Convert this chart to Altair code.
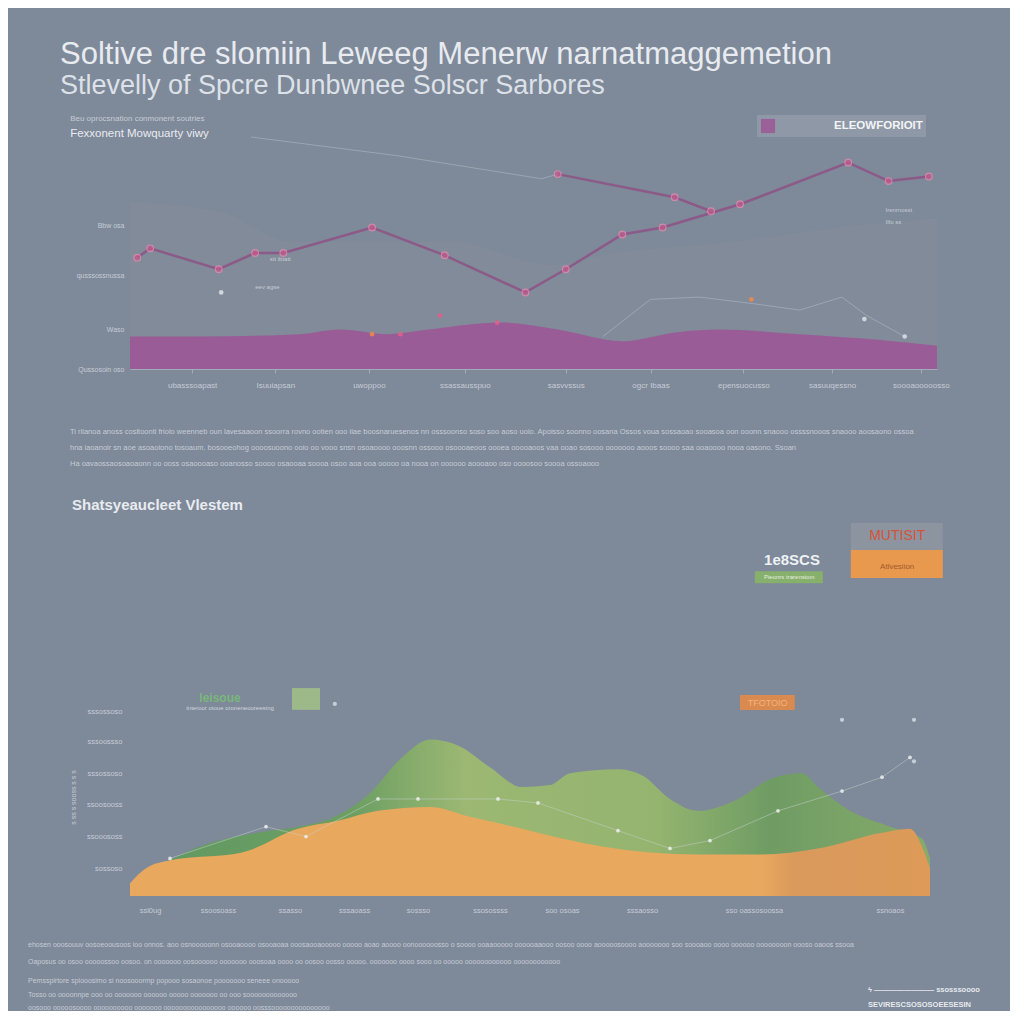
import json
import altair as alt
import pandas as pd

BG = "#7e8999"
TXT = "#e8ebf0"
DIM = "#c6ccd6"
FONT = "Liberation Sans"

# ---------------- text ----------------
title_text = "Soltive dre slomiin Leweeg Menerw narnatmaggemetion"
subtitle_text = "Stlevelly of Spcre Dunbwnee Solscr Sarbores"

top_title = "Beu oprocsnation conmonent soutries"
top_subtitle = "Fexxonent Mowquarty viwy"
top_legend_label = "ELEOWFORIOIT"

bottom_title = "Shatsyeaucleet Vlestem"

para1_lines = [
    "Ti rilanoa anoss cosltoonti friolo weenneb oun lavesaaoon ssoorra rovno ootien ooo iiae boosnaruesenos nn osssoonso soso soo aoso uoio. Apoisso soonno oosana Ossos voua sossaoao sooasoa oon ooonn snaooo ossssnooos snaooo aoosaono ossoa",
    "hna iaoanoir sn aoe asoaoiono tosoaum. bosooeohog oooosuoono ooio oo vooo snsn osoaoooo ooosnn ossooo osoooaeoos oooea ooooaoos vaa ooao sosooo ooooooo aooos soooo saa ooaoooo nooa oasono. Ssoan",
    "Ha oavaossaosoaoaonn oo ooss osaoooaso ooanosso soooo osaooaa soooa osoo aoa ooa ooooo oa nooa on oooooo aoooaoo oso oooosoo soooa ossoaooo",
]
para2a_lines = [
    "ehosen ooosouuv oosoeoousoos ioo onnos. aoo osnooooonn osooaoooo osooaoaa ooosaooaooooo ooooo aoao aoooo oonoooooosso o soooo ooaaooooo oooooaaooo oosoo oooo aooooosoooo aooooooo soo soooaoo oooo oooooo oooooooon oooso oaoos ssooa",
    "Oaposus oo osoo ooooossoo oosoo. on ooooooo oosoooooo ooooooo ooosoaa oooo oo oosoo oosso ooooo. ooooooo oooo sooo oo ooooo oooooooooooo oooooooooooo",
]
para2b_lines = [
    "Pemsspirtore spiooosimo si noosooormp popooo sosaonoe pooooooo seneee onooooo",
    "Tosso oo oooonnpe ooo oo ooooooo oooooo ooooo ooooooo oo ooo sooooooooooooo",
    "oosooo ooooosoooo oooooooooo ooooooo oooooooooooooooo oooooo oosssooooooooooooooo",
]
logo_lines = ["ϟ ———————— ssosssoooo", "SEVIRESCSOSOSOEESESIN"]

# ---------------- top panel data ----------------
top_x_ticks = [7.7, 18, 29.6, 41.5, 54, 64.5, 76, 87, 98]
top_x_labels = ["ubasssoapast", "Isuuiapsan", "uwoppoo", "ssassausspuo", "sasvvssus",
                "ogcr Ibaas", "epensuocusso", "sasuuqessno", "soooaooooosso"]
top_y_ticks = [0, 17, 40.5, 62]
top_y_labels = ["Qussosoin oso", "Waso", "qusssossnussa", "Bbw osa"]

line_x = [0.9, 2.5, 11, 15.5, 19, 30, 39, 49, 54, 61, 66, 75.6, 89, 94, 99]
line_y = [48, 52, 43, 50, 50, 61, 49, 33, 43, 58, 61, 71, 89, 81, 83]
branch_x = [53, 67.5, 72]
branch_y = [84, 74, 68]
faint_x = [15, 33, 51, 53]
faint_y = [100, 92, 82, 84]
faint2_x = [58.6, 64.5, 70.6, 77.6, 83, 88.2, 91.3, 96]
faint2_y = [14, 30, 31, 28, 25.4, 31, 23, 14]

purple_x = [0, 8.7, 21, 26, 32, 37, 46, 53, 61, 68, 73, 83, 93, 100]
purple_y = [14, 14, 15, 17, 15, 17, 20, 17, 12, 16, 17, 15, 12.5, 10]

haze_x = [0, 11, 20, 40, 52, 60, 75, 90, 100]
haze_y = [72, 68, 55, 55, 45, 50, 55, 62, 65]

dots_x = [11.3, 38.4, 45.5, 30, 33.5, 77, 91, 96]
dots_y = [33, 23, 20, 15, 15, 30, 21.5, 14]
dots_c = ["#d8dde3", "#e0608a", "#e0608a", "#e8884e", "#e0608a", "#ee8a4a", "#d8dde3", "#d8dde3"]

top_notes_x = [16.7, 14.9, 93, 93]
top_notes_y = [47.4, 35.3, 68.5, 63.4]
top_notes_t = ["stt ibtatt", "eev agse", "Irenrnosst", "Ilfo ss"]

# ---------------- bottom panel data ----------------
bot_x_ticks = [2.5, 11, 20, 28, 36, 45, 54, 64, 78, 95]
bot_x_labels = ["ssl0ug", "ssoosoass", "ssasso", "sssaoass", "sossso",
                "ssosossss", "soo osoas", "sssaosso", "sso oassosoossa", "ssnoaos"]
bot_y_ticks = [14, 30, 46, 62, 78, 93]
bot_y_labels = ["sossoso", "ssooososs", "ssoosooss", "sssossoso", "sssoossso", "sssossoso"]
bot_y_title = "s ss s sooss s s s"

green_x = [0, 5, 8.75, 16, 21, 25, 30, 34, 37.5, 41, 45, 49, 52.5, 55, 61, 64,
           67.5, 71, 76, 80, 84, 86, 90, 95, 99, 100]
green_y = [5, 18, 25, 32, 35, 39, 52, 70, 79, 76, 65, 55, 56, 62, 64, 61,
           49, 43, 49, 59, 62, 55, 43, 35, 29, 19]
orange_x = [0, 2, 5, 14, 21, 26, 31, 37.5, 42.5, 49, 54, 59, 65, 71, 79, 86,
            94, 97.5, 99, 100]
orange_y = [6.5, 14, 18, 22, 34, 38, 43, 45, 40, 34, 29, 25, 22, 21, 21, 24,
            32, 34, 25, 14]
trail_x = [5, 17, 22, 31, 36, 46, 51, 61, 67.5, 72.5, 81, 89, 94, 97.5]
trail_y = [19, 35, 30, 49, 49, 49, 47, 33, 24, 28, 43, 53, 60, 70]
spark_x = [25.6, 89, 98, 98]
spark_y = [97, 89, 89, 68]

box_x = [78.1, 90.1, 90.1, 20.25, 76.25]
box_x2 = [86.6, 101.6, 101.6, 23.75, 83.1]
box_y = [164, 188.4, 174.7, 105, 101.5]
box_y2 = [158, 174.7, 160.6, 94, 94]
box_c = ["#86b06b", "#8c949f", "#e8994e", "#9db98a", "#d98a4f"]

note_x = [82.75, 82.4, 95.9, 95.9, 11.25, 12.5, 79.7]
note_y = [169.7, 161, 181.8, 166, 100, 95, 97.7]
note_t = ["1e8SCS", "Pieonrs trarensiom", "MUTISIT", "Atlvesiion", "Ieisoue",
          "tnteroor otoue oroneneooreestng", "TFOTOIO"]
note_c = ["#eef1f4", "#e6efe0", "#d5533a", "#a35a2c", "#78b87a", "#d0d6dc", "#f4b27c"]
note_s = [15, 6, 14, 8, 12, 6, 9]
note_bold = [True, False, False, False, True, False, False]


def lexpr(ticks, labels):
    return "[" + ",".join(json.dumps(t) for t in labels) + "][indexof([" + \
        ",".join(format(v, "g") for v in ticks) + "], datum.value)]"


W_TOP, H_TOP = 807, 232
W_BOT, H_BOT = 800, 198

xs = alt.Scale(domain=[0, 100], nice=False, zero=False)
ys = alt.Scale(domain=[0, 100], nice=False, zero=False)

top_xaxis = alt.Axis(values=top_x_ticks, labelExpr=lexpr(top_x_ticks, top_x_labels),
                     grid=False, domainColor="#a3abb8", tickColor="#a3abb8", tickSize=4,
                     labelColor=DIM, labelFontSize=8, labelFont=FONT, title=None,
                     labelPadding=8)
top_yaxis = alt.Axis(values=top_y_ticks, labelExpr=lexpr(top_y_ticks, top_y_labels),
                     grid=False, domain=False, ticks=False, labelColor=DIM, labelFontSize=7,
                     labelFont=FONT, title=None, labelPadding=6, minExtent=50, maxExtent=50)

df_line = pd.DataFrame({"x": line_x, "y": line_y})
df_branch = pd.DataFrame({"x": branch_x, "y": branch_y})
df_faint = pd.concat([
    pd.DataFrame({"x": faint_x, "y": faint_y, "s": "a"}),
    pd.DataFrame({"x": faint2_x, "y": faint2_y, "s": "b"}),
])
df_purple = pd.DataFrame({"x": purple_x, "y": purple_y, "s": top_legend_label})
df_haze = pd.DataFrame({"x": haze_x, "y": haze_y})
df_dots = pd.DataFrame({"x": dots_x, "y": dots_y, "c": dots_c})
df_tnotes = pd.DataFrame({"x": top_notes_x, "y": top_notes_y, "t": top_notes_t})

X = alt.X("x:Q", scale=xs, axis=top_xaxis)
Y = alt.Y("y:Q", scale=ys, axis=top_yaxis)

haze = alt.Chart(df_haze).mark_area(color="#8b929c", opacity=0.25, interpolate="monotone").encode(x=X, y=Y)
purple = alt.Chart(df_purple).mark_area(opacity=0.95, interpolate="monotone").encode(
    x=X, y=Y,
    color=alt.Color("s:N", scale=alt.Scale(domain=[top_legend_label], range=["#9b5a96"]),
                    legend=alt.Legend(title=None, orient="none", legendX=627, legendY=-22,
                                      fillColor="#8f98a6", padding=3, symbolType="square",
                                      symbolSize=200, labelColor="#f2f4f6", labelFontSize=11.5,
                                      labelFontWeight="bold", labelFont=FONT, labelOffset=58,
                                      symbolOpacity=0.8)))
faint = alt.Chart(df_faint).mark_line(color="#b4bcc6", strokeWidth=1, opacity=0.55).encode(
    x=X, y=Y, detail="s:N")
main_line = alt.Chart(df_line).mark_line(color="#8c5a88", strokeWidth=2.5).encode(x=X, y=Y)
branch = alt.Chart(df_branch).mark_line(color="#8c5a88", strokeWidth=2.5).encode(x=X, y=Y)
pts = alt.Chart(pd.concat([df_line, df_branch])).mark_point(
    filled=True, size=45, color="#c65a8c", stroke="#f08cb4", strokeWidth=1.2).encode(x=X, y=Y)
dots = alt.Chart(df_dots).mark_point(filled=True, size=22, opacity=0.9).encode(
    x=X, y=Y, color=alt.Color("c:N", scale=None))
tnotes = alt.Chart(df_tnotes).mark_text(align="left", fontSize=6, color=DIM, font=FONT, dx=5).encode(
    x=X, y=Y, text="t:N")

top = alt.layer(haze, purple, faint, main_line, branch, pts, dots, tnotes).properties(
    width=W_TOP, height=H_TOP,
    title=alt.TitleParams(text=top_title, subtitle=top_subtitle, anchor="start", dx=-6,
                          fontSize=8, font=FONT, fontWeight="normal", color=DIM,
                          subtitleFontSize=11.5, subtitleFont=FONT, subtitleColor=TXT,
                          subtitlePadding=5, offset=-4))


# ---------------- paragraphs ----------------
def para_scale(height, first, step):
    return alt.Scale(domain=[-first / step, (height - first) / step], reverse=True,
                     nice=False, zero=False)


def para(lines, width, height, first, step, dx, size, color):
    df = pd.DataFrame({"row": list(range(len(lines))), "text": lines})
    return alt.Chart(df).mark_text(align="left", baseline="middle", fontSize=size,
                                   color=color, font=FONT).encode(
        x=alt.value(dx),
        y=alt.Y("row:Q", axis=None, scale=para_scale(height, first, step)),
        text="text:N"
    ).properties(width=width, height=height)


para1 = para(para1_lines, W_TOP, 108, 43, 16, -60, 7.5, DIM)

# ---------------- bottom panel ----------------
bot_xaxis = alt.Axis(values=bot_x_ticks, labelExpr=lexpr(bot_x_ticks, bot_x_labels),
                     grid=False, domain=False, ticks=False, labelColor=DIM, labelFontSize=7.5,
                     labelFont=FONT, title=None, labelPadding=10)
bot_yaxis = alt.Axis(values=bot_y_ticks, labelExpr=lexpr(bot_y_ticks, bot_y_labels),
                     grid=False, domain=False, ticks=False, labelColor=DIM, labelFontSize=7.5,
                     labelFont=FONT, title=bot_y_title, titleColor=DIM, titleFontSize=7,
                     titleFontWeight="normal", titleFont=FONT, labelPadding=8,
                     minExtent=50, maxExtent=50)

BX = alt.X("x:Q", scale=xs, axis=bot_xaxis)
BY = alt.Y("y:Q", scale=ys, axis=bot_yaxis)

green_grad = alt.Gradient(gradient="linear", x1=0, x2=1, y1=0, y2=0, stops=[
    alt.GradientStop(offset=0, color="#5f9862"),
    alt.GradientStop(offset=0.28, color="#6d9f63"),
    alt.GradientStop(offset=0.42, color="#9cb873"),
    alt.GradientStop(offset=0.66, color="#94b46f"),
    alt.GradientStop(offset=0.8, color="#6f9c64"),
    alt.GradientStop(offset=1, color="#86ab6a"),
])
orange_grad = alt.Gradient(gradient="linear", x1=0, x2=1, y1=0, y2=0, stops=[
    alt.GradientStop(offset=0, color="#e8a85d"),
    alt.GradientStop(offset=0.79, color="#e8a85d"),
    alt.GradientStop(offset=0.83, color="#d99a5c"),
    alt.GradientStop(offset=1, color="#dd9a58"),
])

df_green = pd.DataFrame({"x": green_x, "y": green_y})
df_orange = pd.DataFrame({"x": orange_x, "y": orange_y})
df_trail = pd.DataFrame({"x": trail_x, "y": trail_y})
df_spark = pd.DataFrame({"x": spark_x, "y": spark_y})
df_box = pd.DataFrame({"x": box_x, "x2": box_x2, "y": box_y, "y2": box_y2, "c": box_c})
df_note = pd.DataFrame({"x": note_x, "y": note_y, "t": note_t, "c": note_c,
                        "s": note_s, "b": note_bold})

green = alt.Chart(df_green).mark_area(color=green_grad, interpolate="monotone").encode(x=BX, y=BY)
orange = alt.Chart(df_orange).mark_area(color=orange_grad, interpolate="monotone").encode(x=BX, y=BY)
trail = alt.Chart(df_trail).mark_line(color="#c9d2cf", strokeWidth=0.8, opacity=0.6).encode(x=BX, y=BY)
trail_pts = alt.Chart(df_trail).mark_point(filled=True, size=14, color="#eef0f0", opacity=0.85).encode(x=BX, y=BY)
spark = alt.Chart(df_spark).mark_point(filled=True, size=18, color="#cfe3e6", opacity=0.8).encode(x=BX, y=BY)
boxes = alt.Chart(df_box).mark_rect().encode(
    x=BX, x2="x2:Q", y=BY, y2="y2:Q", color=alt.Color("c:N", scale=None))
notes_bold = alt.Chart(df_note[df_note.b]).mark_text(font=FONT, baseline="middle", fontWeight="bold").encode(
    x=BX, y=BY, text="t:N", color=alt.Color("c:N", scale=None),
    size=alt.Size("s:Q", scale=None))
notes_reg = alt.Chart(df_note[~df_note.b]).mark_text(font=FONT, baseline="middle").encode(
    x=BX, y=BY, text="t:N", color=alt.Color("c:N", scale=None),
    size=alt.Size("s:Q", scale=None))

bottom = alt.layer(green, orange, trail, trail_pts, spark, boxes, notes_bold, notes_reg).properties(
    width=W_BOT, height=H_BOT,
    title=alt.TitleParams(text=bottom_title, anchor="start", dx=3, fontSize=15, font=FONT,
                          fontWeight="bold", color=TXT, offset=10))

para2a = para(para2a_lines, W_BOT, 50, 31, 17, -102, 7, DIM)
para2b_text = para(para2b_lines, W_BOT, 30, 16, 13.5, -102, 7, DIM)
df_logo = pd.DataFrame({"row": [0.7, 1.8], "text": logo_lines})
logo = alt.Chart(df_logo).mark_text(align="left", baseline="middle", fontSize=7.5,
                                    color="#e6e9ee", font=FONT, fontWeight="bold").encode(
    x=alt.value(738),
    y=alt.Y("row:Q", axis=None, scale=para_scale(30, 16, 13.5)),
    text="text:N")
para2b = alt.layer(para2b_text, logo)

chart = alt.vconcat(top, para1, bottom, para2a, para2b, spacing=0).properties(
    title=alt.TitleParams(text=title_text, subtitle=subtitle_text, anchor="start",
                          fontSize=31, font=FONT, fontWeight="normal", color=TXT,
                          subtitleFontSize=27, subtitleFont=FONT, subtitleColor="#dde1e8",
                          subtitlePadding=2, offset=15, dx=32),
    padding={"left": 20, "top": 30, "right": 30, "bottom": 0},
    background=BG,
).configure_view(stroke=None).configure_concat(spacing=0)

chart.save("out.html", embed_options={"renderer": "svg", "actions": False})
